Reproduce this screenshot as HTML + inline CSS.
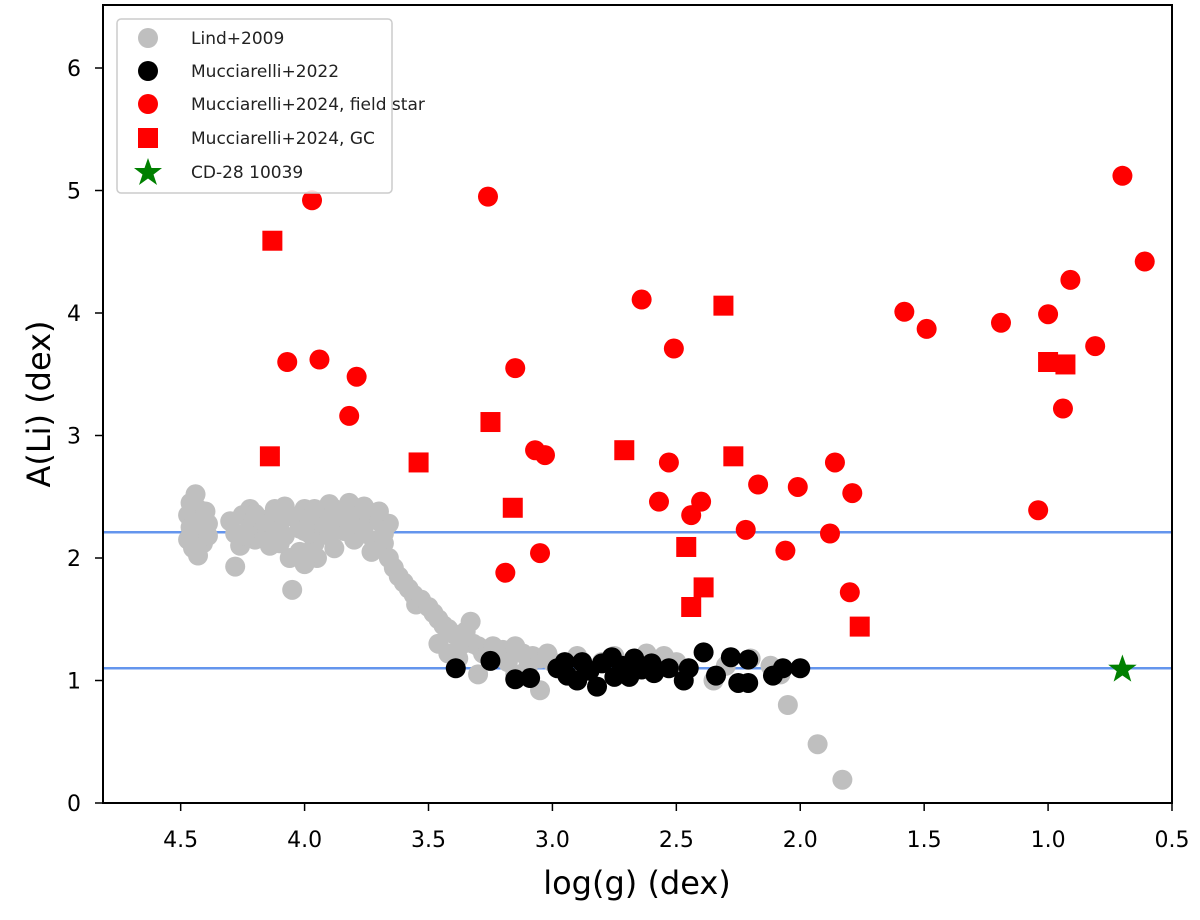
<!DOCTYPE html>
<html><head><meta charset="utf-8"><style>
body{margin:0;background:#fff;}
svg text{font-family:"DejaVu Sans","Liberation Sans",sans-serif;}
</style></head><body>
<svg id="chart" width="1200" height="915" xmlns="http://www.w3.org/2000/svg">
<g id="grid"></g>
<g id="marks"></g>
<rect x="103" y="5" width="1069" height="798" fill="none" stroke="#000" stroke-width="2"/>
<g id="axes"></g>
<text x="637" y="894" font-size="32" text-anchor="middle">log(g) (dex)</text>
<text transform="translate(50,404) rotate(-90)" font-size="32" text-anchor="middle">A(Li) (dex)</text>
<g>
<rect x="117" y="19" width="275" height="174" rx="4" fill="#fff" fill-opacity="0.85" stroke="#ccc" stroke-width="1.5"/>
<circle cx="148" cy="38" r="10" fill="#bfbfbf"/>
<text x="191" y="44" font-size="17" fill="#222">Lind+2009</text>
<circle cx="148" cy="71" r="10" fill="#000"/>
<text x="191" y="77" font-size="17" fill="#222">Mucciarelli+2022</text>
<circle cx="148" cy="104" r="10" fill="#f00"/>
<text x="191" y="110" font-size="17" fill="#222">Mucciarelli+2024, field star</text>
<rect x="138" y="128" width="20" height="20" fill="#f00"/>
<text x="191" y="144" font-size="17" fill="#222">Mucciarelli+2024, GC</text>
<polygon points="148,158 151.5,168 162,168 153.5,174.5 157,185 148,178.5 139,185 142.5,174.5 134,168 144.5,168" fill="#008000"/>
<text x="191" y="178" font-size="17" fill="#222">CD-28 10039</text>
</g>
</svg>
<script>
const xTicks=[4.5,4.0,3.5,3.0,2.5,2.0,1.5,1.0,0.5];
const xTickLabels=["4.5","4.0","3.5","3.0","2.5","2.0","1.5","1.0","0.5"];
const yTicks=[0,1,2,3,4,5,6];
const yTickLabels=["0","1","2","3","4","5","6"];
const hLines=[2.21,1.10];
const lindX=[4.44,4.46,4.43,4.47,4.42,4.46,4.43,4.47,4.41,4.45,4.43,4.39,4.39,4.40,4.30,4.28,4.25,4.22,4.20,4.18,4.15,4.12,4.10,4.08,4.05,4.02,4.00,3.98,3.96,3.94,3.92,3.90,3.88,3.86,3.84,3.82,3.80,3.78,3.76,3.74,3.72,3.70,3.68,3.66,4.26,4.14,4.02,3.95,4.06,3.88,3.80,3.73,4.22,4.08,3.90,3.98,4.28,4.05,4.00,3.68,3.66,3.64,3.62,3.60,3.58,3.56,3.55,3.53,3.50,3.48,3.46,3.44,3.42,3.40,3.38,3.36,3.35,3.33,3.32,3.30,3.28,3.26,3.42,3.46,3.38,3.24,3.22,3.20,3.18,3.15,3.12,3.10,3.08,3.05,3.05,3.02,3.00,2.90,2.80,2.75,2.62,2.55,2.50,2.35,2.30,2.20,2.12,2.08,2.05,1.93,1.83,3.30,3.15,4.24,4.16,4.10,4.00,3.92,3.84,3.76,4.20,4.12,3.96,3.86,3.70];
const lindY=[2.52,2.45,2.40,2.35,2.30,2.25,2.20,2.15,2.12,2.08,2.02,2.28,2.18,2.38,2.30,2.20,2.35,2.25,2.15,2.32,2.22,2.38,2.28,2.18,2.34,2.24,2.40,2.30,2.12,2.36,2.26,2.18,2.40,2.30,2.22,2.45,2.35,2.25,2.42,2.32,2.14,2.30,2.20,2.28,2.10,2.10,2.05,2.00,2.00,2.08,2.15,2.05,2.40,2.42,2.44,2.20,1.93,1.74,1.95,2.12,2.00,1.92,1.85,1.80,1.75,1.70,1.62,1.66,1.60,1.55,1.50,1.45,1.42,1.38,1.35,1.30,1.40,1.48,1.30,1.28,1.22,1.25,1.22,1.30,1.18,1.28,1.20,1.25,1.15,1.28,1.22,1.10,1.20,0.92,1.18,1.22,1.15,1.20,1.15,1.20,1.22,1.20,1.15,1.00,1.12,1.18,1.12,1.05,0.80,0.48,0.19,1.05,1.05,2.18,2.30,2.12,2.22,2.32,2.28,2.20,2.36,2.40,2.40,2.34,2.38];
const m22X=[3.39,3.25,3.15,3.09,2.95,2.94,2.90,2.88,2.82,2.80,2.76,2.75,2.69,2.67,2.64,2.59,2.53,2.47,2.45,2.39,2.34,2.28,2.25,2.21,2.21,2.11,2.07,2.00,2.85,2.72,2.60,2.98];
const m22Y=[1.10,1.16,1.01,1.02,1.15,1.04,1.00,1.15,0.95,1.14,1.19,1.03,1.03,1.18,1.09,1.06,1.10,1.00,1.10,1.23,1.04,1.19,0.98,0.98,1.17,1.04,1.10,1.10,1.08,1.12,1.14,1.10];
const fieldX=[3.97,4.07,3.94,3.79,3.82,3.19,3.05,3.07,3.03,3.15,3.26,2.64,2.51,2.53,2.57,2.44,2.40,2.22,2.06,2.17,2.01,1.86,1.79,1.88,1.80,1.58,1.49,1.19,1.00,1.04,0.94,0.91,0.81,0.70,0.61];
const fieldY=[4.92,3.60,3.62,3.48,3.16,1.88,2.04,2.88,2.84,3.55,4.95,4.11,3.71,2.78,2.46,2.35,2.46,2.23,2.06,2.60,2.58,2.78,2.53,2.20,1.72,4.01,3.87,3.92,3.99,2.39,3.22,4.27,3.73,5.12,4.42];
const gcX=[4.13,4.14,3.54,3.25,3.16,2.71,2.31,2.27,2.46,2.39,2.44,1.76,1.00,0.93];
const gcY=[4.59,2.83,2.78,3.11,2.41,2.88,4.06,2.83,2.09,1.76,1.60,1.44,3.60,3.58];
const starX=[0.70];
const starY=[1.09];

const NS="http://www.w3.org/2000/svg";
const X0=103,X1=1172,Y0=803,Y1=5;
const xmin=4.8134,xmax=0.5,ymin=0,ymax=6.5143;
function sx(v){return X0+(v-xmin)/(xmax-xmin)*(X1-X0);}
function sy(v){return Y0-(v-ymin)/(ymax-ymin)*(Y0-Y1);}
function mk(tag,attrs,parent){const e=document.createElementNS(NS,tag);for(const k in attrs)e.setAttribute(k,attrs[k]);parent.appendChild(e);return e;}
const axes=document.getElementById('axes'),marks=document.getElementById('marks'),grid=document.getElementById('grid');
xTicks.forEach((t,i)=>{
  const l=mk('line',{x1:sx(t),x2:sx(t),y1:Y0,y2:Y0+8,stroke:'#000','stroke-width':1.5},axes);
  
  
  const tx=mk('text',{x:sx(t),y:Y0+44,'font-size':22,'text-anchor':'middle'},axes);
  tx.textContent=xTickLabels[i];
  
  
});
yTicks.forEach((t,i)=>{
  const l=mk('line',{x1:X0-8,x2:X0,y1:sy(t),y2:sy(t),stroke:'#000','stroke-width':1.5},axes);
  
  
  const tx=mk('text',{x:X0-22,y:sy(t)+8,'font-size':22,'text-anchor':'end'},axes);
  tx.textContent=yTickLabels[i];
  
  
});
hLines.forEach(v=>{
  const l=mk('line',{x1:X0,x2:X1,y1:sy(v),y2:sy(v),stroke:'#6495ed','stroke-width':2.5},grid);
  
  
});
lindX.forEach((x,i)=>{
  const c=mk('circle',{cx:sx(x),cy:sy(lindY[i]),r:10,fill:'#bfbfbf'},marks);
  
  
});
m22X.forEach((x,i)=>{
  const c=mk('circle',{cx:sx(x),cy:sy(m22Y[i]),r:10,fill:'#000'},marks);
  
  
});
fieldX.forEach((x,i)=>{
  const c=mk('circle',{cx:sx(x),cy:sy(fieldY[i]),r:10,fill:'#f00'},marks);
  
  
});
gcX.forEach((x,i)=>{
  const c=mk('rect',{x:sx(x)-10,y:sy(gcY[i])-10,width:20,height:20,fill:'#f00'},marks);
  
  
});
starX.forEach((x,i)=>{
  const cx=sx(x),cy=sy(starY[i]);let pts=[];
  for(let k=0;k<10;k++){const a=-Math.PI/2+k*Math.PI/5;const r=k%2?6:15;pts.push((cx+r*Math.cos(a)).toFixed(1)+','+(cy+r*Math.sin(a)).toFixed(1));}
  const p=mk('polygon',{points:pts.join(' '),fill:'#008000'},marks);
  
  
});
</script>
</body></html>
